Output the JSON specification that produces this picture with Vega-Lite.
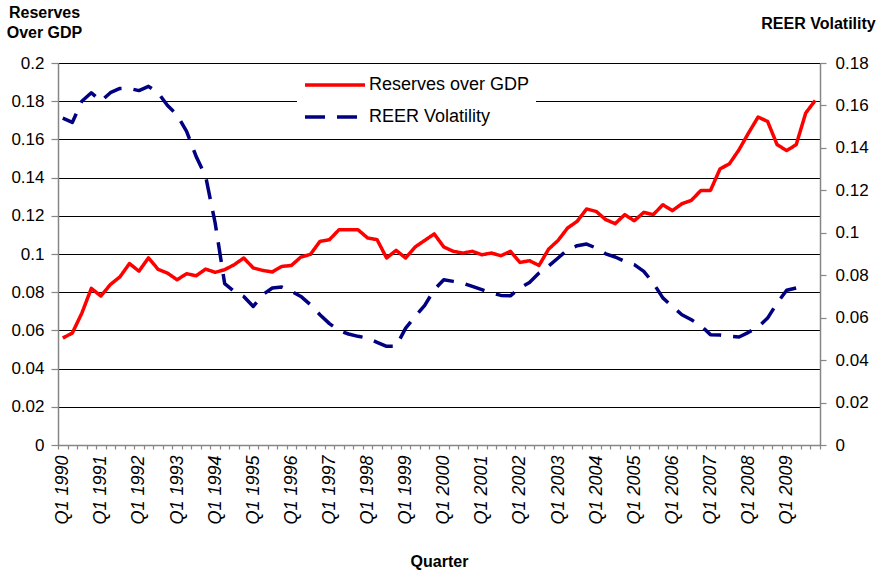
{
  "$schema": "https://vega.github.io/schema/vega-lite/v6.json",
  "autosize": "none",
  "width": 762,
  "height": 382,
  "padding": {"left": 58, "top": 63, "right": 59, "bottom": 125},
  "background": "white",
  "config": {
    "font": "Liberation Sans",
    "view": {"stroke": null},
    "axis": {"labelColor": "#000", "titleColor": "#000", "domainColor": "#868686", "tickColor": "#868686", "domainWidth": 1.5, "tickWidth": 1.2}
  },
  "data": {
    "values": [
      {"q": "Q1 1990", "Reserves over GDP": 0.056, "REER Volatility": 0.154},
      {"q": "Q2 1990", "Reserves over GDP": 0.0586, "REER Volatility": 0.152},
      {"q": "Q3 1990", "Reserves over GDP": 0.069, "REER Volatility": 0.162},
      {"q": "Q4 1990", "Reserves over GDP": 0.082, "REER Volatility": 0.166},
      {"q": "Q1 1991", "Reserves over GDP": 0.078, "REER Volatility": 0.162},
      {"q": "Q2 1991", "Reserves over GDP": 0.084, "REER Volatility": 0.166},
      {"q": "Q3 1991", "Reserves over GDP": 0.088, "REER Volatility": 0.168},
      {"q": "Q4 1991", "Reserves over GDP": 0.095, "REER Volatility": 0.168},
      {"q": "Q1 1992", "Reserves over GDP": 0.091, "REER Volatility": 0.167},
      {"q": "Q2 1992", "Reserves over GDP": 0.098, "REER Volatility": 0.169},
      {"q": "Q3 1992", "Reserves over GDP": 0.092, "REER Volatility": 0.166},
      {"q": "Q4 1992", "Reserves over GDP": 0.090, "REER Volatility": 0.160},
      {"q": "Q1 1993", "Reserves over GDP": 0.0865, "REER Volatility": 0.1556},
      {"q": "Q2 1993", "Reserves over GDP": 0.0897, "REER Volatility": 0.1478},
      {"q": "Q3 1993", "Reserves over GDP": 0.0886, "REER Volatility": 0.136},
      {"q": "Q4 1993", "Reserves over GDP": 0.0921, "REER Volatility": 0.1266},
      {"q": "Q1 1994", "Reserves over GDP": 0.0904, "REER Volatility": 0.1046},
      {"q": "Q2 1994", "Reserves over GDP": 0.0918, "REER Volatility": 0.076},
      {"q": "Q3 1994", "Reserves over GDP": 0.0944, "REER Volatility": 0.0724},
      {"q": "Q4 1994", "Reserves over GDP": 0.0979, "REER Volatility": 0.070},
      {"q": "Q1 1995", "Reserves over GDP": 0.0927, "REER Volatility": 0.0653},
      {"q": "Q2 1995", "Reserves over GDP": 0.0914, "REER Volatility": 0.0708},
      {"q": "Q3 1995", "Reserves over GDP": 0.0906, "REER Volatility": 0.074},
      {"q": "Q4 1995", "Reserves over GDP": 0.0935, "REER Volatility": 0.0744},
      {"q": "Q1 1996", "Reserves over GDP": 0.094, "REER Volatility": 0.0725},
      {"q": "Q2 1996", "Reserves over GDP": 0.0984, "REER Volatility": 0.070},
      {"q": "Q3 1996", "Reserves over GDP": 0.0998, "REER Volatility": 0.0661},
      {"q": "Q4 1996", "Reserves over GDP": 0.1066, "REER Volatility": 0.0614},
      {"q": "Q1 1997", "Reserves over GDP": 0.1075, "REER Volatility": 0.0572},
      {"q": "Q2 1997", "Reserves over GDP": 0.1127, "REER Volatility": 0.054},
      {"q": "Q3 1997", "Reserves over GDP": 0.1127, "REER Volatility": 0.0523},
      {"q": "Q4 1997", "Reserves over GDP": 0.1127, "REER Volatility": 0.0512},
      {"q": "Q1 1998", "Reserves over GDP": 0.1084, "REER Volatility": 0.0504},
      {"q": "Q2 1998", "Reserves over GDP": 0.1075, "REER Volatility": 0.0484},
      {"q": "Q3 1998", "Reserves over GDP": 0.0979, "REER Volatility": 0.0465},
      {"q": "Q4 1998", "Reserves over GDP": 0.1019, "REER Volatility": 0.0465},
      {"q": "Q1 1999", "Reserves over GDP": 0.0979, "REER Volatility": 0.0551},
      {"q": "Q2 1999", "Reserves over GDP": 0.1037, "REER Volatility": 0.0606},
      {"q": "Q3 1999", "Reserves over GDP": 0.1071, "REER Volatility": 0.0658},
      {"q": "Q4 1999", "Reserves over GDP": 0.1105, "REER Volatility": 0.0732},
      {"q": "Q1 2000", "Reserves over GDP": 0.1037, "REER Volatility": 0.0779},
      {"q": "Q2 2000", "Reserves over GDP": 0.1014, "REER Volatility": 0.0771},
      {"q": "Q3 2000", "Reserves over GDP": 0.1005, "REER Volatility": 0.0763},
      {"q": "Q4 2000", "Reserves over GDP": 0.1014, "REER Volatility": 0.0747},
      {"q": "Q1 2001", "Reserves over GDP": 0.0996, "REER Volatility": 0.0732},
      {"q": "Q2 2001", "Reserves over GDP": 0.1005, "REER Volatility": 0.0716},
      {"q": "Q3 2001", "Reserves over GDP": 0.0991, "REER Volatility": 0.0705},
      {"q": "Q4 2001", "Reserves over GDP": 0.1014, "REER Volatility": 0.0703},
      {"q": "Q1 2002", "Reserves over GDP": 0.0956, "REER Volatility": 0.074},
      {"q": "Q2 2002", "Reserves over GDP": 0.0965, "REER Volatility": 0.0766},
      {"q": "Q3 2002", "Reserves over GDP": 0.094, "REER Volatility": 0.081},
      {"q": "Q4 2002", "Reserves over GDP": 0.1025, "REER Volatility": 0.0843},
      {"q": "Q1 2003", "Reserves over GDP": 0.1071, "REER Volatility": 0.0881},
      {"q": "Q2 2003", "Reserves over GDP": 0.1136, "REER Volatility": 0.092},
      {"q": "Q3 2003", "Reserves over GDP": 0.1171, "REER Volatility": 0.0939},
      {"q": "Q4 2003", "Reserves over GDP": 0.1236, "REER Volatility": 0.0947},
      {"q": "Q1 2004", "Reserves over GDP": 0.1223, "REER Volatility": 0.0928},
      {"q": "Q2 2004", "Reserves over GDP": 0.118, "REER Volatility": 0.0901},
      {"q": "Q3 2004", "Reserves over GDP": 0.1159, "REER Volatility": 0.0886},
      {"q": "Q4 2004", "Reserves over GDP": 0.1206, "REER Volatility": 0.0865},
      {"q": "Q1 2005", "Reserves over GDP": 0.1174, "REER Volatility": 0.085},
      {"q": "Q2 2005", "Reserves over GDP": 0.1218, "REER Volatility": 0.0818},
      {"q": "Q3 2005", "Reserves over GDP": 0.1206, "REER Volatility": 0.0763},
      {"q": "Q4 2005", "Reserves over GDP": 0.1258, "REER Volatility": 0.0693},
      {"q": "Q1 2006", "Reserves over GDP": 0.1227, "REER Volatility": 0.0653},
      {"q": "Q2 2006", "Reserves over GDP": 0.1263, "REER Volatility": 0.0614},
      {"q": "Q3 2006", "Reserves over GDP": 0.1281, "REER Volatility": 0.059},
      {"q": "Q4 2006", "Reserves over GDP": 0.1333, "REER Volatility": 0.0562},
      {"q": "Q1 2007", "Reserves over GDP": 0.1333, "REER Volatility": 0.052},
      {"q": "Q2 2007", "Reserves over GDP": 0.1445, "REER Volatility": 0.0518},
      {"q": "Q3 2007", "Reserves over GDP": 0.1473, "REER Volatility": 0.0512},
      {"q": "Q4 2007", "Reserves over GDP": 0.1546, "REER Volatility": 0.0509},
      {"q": "Q1 2008", "Reserves over GDP": 0.1634, "REER Volatility": 0.0531},
      {"q": "Q2 2008", "Reserves over GDP": 0.1717, "REER Volatility": 0.0556},
      {"q": "Q3 2008", "Reserves over GDP": 0.1694, "REER Volatility": 0.0598},
      {"q": "Q4 2008", "Reserves over GDP": 0.1572, "REER Volatility": 0.0669},
      {"q": "Q1 2009", "Reserves over GDP": 0.1542, "REER Volatility": 0.0729},
      {"q": "Q2 2009", "Reserves over GDP": 0.1572, "REER Volatility": 0.074},
      {"q": "Q3 2009", "Reserves over GDP": 0.1738, "REER Volatility": 0.0752},
      {"q": "Q4 2009", "Reserves over GDP": 0.1804, "REER Volatility": null}
    ]
  },
  "transform": [
    {"fold": ["Reserves over GDP", "REER Volatility"], "as": ["series", "value"]}
  ],
  "encoding": {
    "x": {
      "field": "q",
      "type": "ordinal",
      "sort": null,
      "bandPosition": 0.5,
      "scale": {"type": "band", "paddingInner": 0, "paddingOuter": 0},
      "axis": {
        "title": "Quarter",
        "titleFontSize": 16,
        "titleFontWeight": "bold",
        "titleX": 381,
        "titleY": 121,
        "titleAlign": "center",
        "titleBaseline": "alphabetic",
        "labelAngle": 270,
        "labelFontSize": 18,
        "labelFontStyle": "italic",
        "labelExpr": "substring(datum.label, 0, 2) == 'Q1' ? datum.label : ''",
        "labelOverlap": false,
        "labelPadding": 6,
        "tickSize": 4,
        "tickBand": "extent",
        "grid": false
      }
    },
    "color": {
      "field": "series",
      "type": "nominal",
      "scale": {"domain": ["Reserves over GDP", "REER Volatility"], "range": ["#ff0000", "#000080"]},
      "legend": {
        "title": null,
        "orient": "none",
        "legendX": 239,
        "legendY": 4,
        "symbolType": "M-1,0H5",
        "symbolSize": 400,
        "symbolStrokeWidth": 3.5,
        "symbolFillColor": "transparent",
        "labelFontSize": 18,
        "labelLimit": 400,
        "labelColor": "#000",
        "labelOffset": 42,
        "fillColor": "white",
        "padding": 6,
        "rowPadding": 11
      }
    },
    "strokeDash": {
      "field": "series",
      "type": "nominal",
      "scale": {"domain": ["Reserves over GDP", "REER Volatility"], "range": [[1, 0], [20, 12]]},
      "legend": {
        "title": null,
        "orient": "none",
        "legendX": 239,
        "legendY": 4,
        "symbolType": "M-1,0H5",
        "symbolSize": 400,
        "symbolStrokeWidth": 3.5,
        "symbolFillColor": "transparent",
        "labelFontSize": 18,
        "labelLimit": 400,
        "labelColor": "#000",
        "labelOffset": 42,
        "fillColor": "white",
        "padding": 6,
        "rowPadding": 11
      }
    }
  },
  "layer": [
    {
      "transform": [{"filter": "datum.series == 'Reserves over GDP'"}],
      "mark": {"type": "line", "strokeWidth": 3.5, "strokeJoin": "round"},
      "encoding": {
        "y": {
          "field": "value",
          "type": "quantitative",
          "scale": {"domain": [0, 0.2], "nice": false, "zero": true},
          "axis": {
            "orient": "left",
            "values": [0, 0.02, 0.04, 0.06, 0.08, 0.1, 0.12, 0.14, 0.16, 0.18, 0.2],
            "format": ".2~f",
            "grid": true,
            "gridColor": "#000",
            "gridWidth": 1,
            "tickSize": 7,
            "labelPadding": 7,
            "labelFontSize": 17,
            "title": ["Reserves", "Over GDP"],
            "titleAngle": 0,
            "titleX": -14,
            "titleY": -46,
            "titleAlign": "center",
            "titleBaseline": "alphabetic",
            "titleFontSize": 16,
            "titleFontWeight": "bold",
            "titleLineHeight": 20
          }
        }
      }
    },
    {
      "transform": [{"filter": "datum.series == 'REER Volatility'"}],
      "mark": {"type": "line", "strokeWidth": 3.5, "strokeJoin": "round"},
      "encoding": {
        "y": {
          "field": "value",
          "type": "quantitative",
          "scale": {"domain": [0, 0.18], "nice": false, "zero": true},
          "axis": {
            "orient": "right",
            "values": [0, 0.02, 0.04, 0.06, 0.08, 0.1, 0.12, 0.14, 0.16, 0.18],
            "format": ".2~f",
            "grid": false,
            "tickSize": 6,
            "labelPadding": 9,
            "labelFontSize": 17,
            "title": "REER Volatility",
            "titleAngle": 0,
            "titleX": -2,
            "titleY": -35,
            "titleAlign": "center",
            "titleBaseline": "alphabetic",
            "titleFontSize": 16,
            "titleFontWeight": "bold"
          }
        }
      }
    }
  ],
  "resolve": {"scale": {"y": "independent"}}
}
